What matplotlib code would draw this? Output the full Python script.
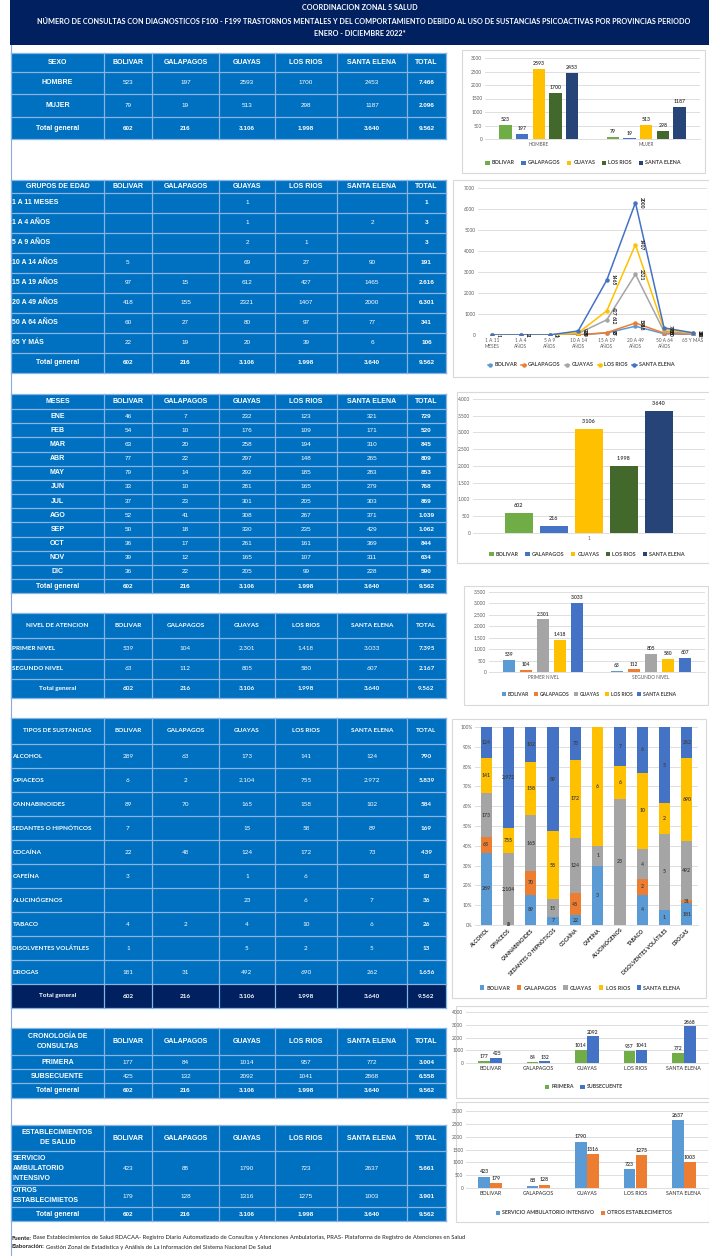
import matplotlib
matplotlib.use('Agg')
import matplotlib.pyplot as plt
from matplotlib.patches import Rectangle
from matplotlib.lines import Line2D
from matplotlib.ticker import FuncFormatter
import numpy as np

W, H = 709, 1256

# ------------------------------------------------------------------ data
provincias = ['BOLIVAR', 'GALAPAGOS', 'GUAYAS', 'LOS RIOS', 'SANTA ELENA']

sexo_cats = ['HOMBRE', 'MUJER']
sexo_vals = [[523, 197, 2593, 1700, 2453],
             [79, 19, 513, 298, 1187]]

edad_cats = ['1 A 11 MESES', '1 A 4 AÑOS', '5 A 9 AÑOS', '10 A 14 AÑOS',
             '15 A 19 AÑOS', '20 A 49 AÑOS', '50 A 64 AÑOS', '65 Y MÁS']
edad_axis_labels = ['1 A 11\nMESES', '1 A 4\nAÑOS', '5 A 9\nAÑOS', '10 A 14\nAÑOS',
                    '15 A 19\nAÑOS', '20 A 49\nAÑOS', '50 A 64\nAÑOS', '65 Y MÁS']
edad_vals = [[None, None, 1, None, None],
             [None, None, 1, None, 2],
             [None, None, 2, 1, None],
             [5, None, 69, 27, 90],
             [97, 15, 612, 427, 1465],
             [418, 155, 2321, 1407, 2000],
             [60, 27, 80, 97, 77],
             [22, 19, 20, 39, 6]]

meses_cats = ['ENE', 'FEB', 'MAR', 'ABR', 'MAY', 'JUN', 'JUL', 'AGO', 'SEP', 'OCT', 'NOV', 'DIC']
meses_vals = [[46, 7, 232, 123, 321], [54, 10, 176, 109, 171], [63, 20, 258, 194, 310],
              [77, 22, 297, 148, 265], [79, 14, 292, 185, 283], [33, 10, 281, 165, 279],
              [37, 23, 301, 205, 303], [52, 41, 308, 267, 371], [50, 18, 330, 235, 429],
              [36, 17, 261, 161, 369], [39, 12, 165, 107, 311], [36, 22, 205, 99, 228]]
meses_chart_cat = ['1']

nivel_cats = ['PRIMER NIVEL', 'SEGUNDO NIVEL']
nivel_vals = [[539, 104, 2301, 1418, 3033],
              [63, 112, 805, 580, 607]]

sust_cats = ['ALCOHOL', 'OPIACEOS', 'CANNABINOIDES', 'SEDANTES O HIPNÓTICOS', 'COCAÍNA',
             'CAFEÍNA', 'ALUCINÓGENOS', 'TABACO', 'DISOLVENTES VOLÁTILES', 'DROGAS']
sust_vals = [[289, 63, 173, 141, 124], [6, 2, 2104, 755, 2972], [89, 70, 165, 158, 102],
             [7, None, 15, 58, 89], [22, 48, 124, 172, 73], [3, None, 1, 6, None],
             [None, None, 23, 6, 7], [4, 2, 4, 10, 6], [1, None, 5, 2, 5],
             [181, 31, 492, 690, 262]]

crono_cats = ['PRIMERA', 'SUBSECUENTE']
crono_vals = [[177, 84, 1014, 957, 772],
              [425, 132, 2092, 1041, 2868]]

estab_cats = ['SERVICIO AMBULATORIO INTENSIVO', 'OTROS ESTABLECIMIETOS']
estab_table_labels = ['SERVICIO\nAMBULATORIO\nINTENSIVO', 'OTROS\nESTABLECIMIETOS']
estab_vals = [[423, 88, 1790, 723, 2637],
              [179, 128, 1316, 1275, 1003]]

# ------------------------------------------------------------------ style
NAVY = '#002060'
BLUE = '#0070C0'
GRIDC = '#86B4E3'
PAL_A = ['#70AD47', '#4472C4', '#FFC000', '#43682B', '#264478']
PAL_B = ['#5B9BD5', '#ED7D31', '#A5A5A5', '#FFC000', '#4472C4']
PAL_CRONO = ['#70AD47', '#4472C4']
PAL_ESTAB = ['#5B9BD5', '#ED7D31']
ARIAL = ['Liberation Sans', 'DejaVu Sans']
CALI = ['Lato', 'DejaVu Sans']
LBL = '#404040'
TICKC = '#595959'


def fmt(n):
    return f"{int(round(n)):,}".replace(',', '.')


fig = plt.figure(figsize=(W / 100, H / 100), dpi=100)
bg = fig.add_axes([0, 0, 1, 1])
bg.set_xlim(0, W)
bg.set_ylim(H, 0)
bg.axis('off')

# left border
bg.plot([10.5, 10.5], [0, H], color='#8EA9DB', lw=0.8, zorder=0)

# header band
bg.add_patch(Rectangle((10, 0), W - 10, 45, fc=NAVY, ec='none', zorder=1))
bg.text(360, 7.5, 'COORDINACION ZONAL 5 SALUD', color='white', ha='center', va='center',
        fontsize=5.2, weight='bold', family=CALI, zorder=3)
bg.text(364, 22, 'NÚMERO DE CONSULTAS CON DIAGNOSTICOS F100 - F199 TRASTORNOS MENTALES Y DEL '
        'COMPORTAMIENTO DEBIDO AL USO DE SUSTANCIAS PSICOACTIVAS POR PROVINCIAS PERIODO',
        color='white', ha='center', va='center', fontsize=5.2, weight='bold', family=CALI, zorder=3)
bg.text(360, 33.5, 'ENERO - DICIEMBRE 2022*', color='white', ha='center', va='center',
        fontsize=5.2, weight='bold', family=CALI, zorder=3)

COLS = [11, 104, 152, 219, 275, 337, 407, 446]


def draw_table(ys, head0, labels, vals, inner_dot=False, label_ha='center', fam=ARIAL,
               fs_head=5.0, fs_body=4.6, total_fc=BLUE):
    x0, x1 = COLS[0], COLS[-1]
    bg.add_patch(Rectangle((x0, ys[0]), x1 - x0, ys[-1] - ys[0], fc=BLUE, ec='none', zorder=1))
    if total_fc != BLUE:
        bg.add_patch(Rectangle((x0, ys[-2]), x1 - x0, ys[-1] - ys[-2], fc=total_fc, ec='none', zorder=1.2))
    for x in COLS:
        bg.plot([x, x], [ys[0], ys[-1]], color=GRIDC, lw=0.9, zorder=2)
    for y in ys:
        bg.plot([x0, x1], [y, y], color=GRIDC, lw=0.9, zorder=2)
    heads = [head0] + provincias + ['TOTAL']
    for j, h in enumerate(heads):
        bg.text((COLS[j] + COLS[j + 1]) / 2, (ys[0] + ys[1]) / 2, h, color='white',
                ha='center', va='center', fontsize=fs_head, weight='bold', family=fam,
                zorder=3, linespacing=1.6)
    col_tot = [0] * 5
    for i, row in enumerate(vals):
        yc = (ys[i + 1] + ys[i + 2]) / 2
        if label_ha == 'left':
            bg.text(COLS[0] + 1.5, yc, labels[i], color='white', ha='left', va='center',
                    fontsize=fs_head, weight='bold', family=fam, zorder=3, linespacing=1.6)
        else:
            bg.text((COLS[0] + COLS[1]) / 2, yc, labels[i], color='white', ha='center',
                    va='center', fontsize=fs_head, weight='bold', family=fam, zorder=3)
        for j, v in enumerate(row):
            if v is None:
                continue
            col_tot[j] += v
            txt = fmt(v) if inner_dot else str(v)
            bg.text((COLS[j + 1] + COLS[j + 2]) / 2, yc, txt, color='white', ha='center',
                    va='center', fontsize=fs_body, family=fam, zorder=3)
        tot = sum(v for v in row if v is not None)
        bg.text((COLS[6] + COLS[7]) / 2, yc, fmt(tot), color='white', ha='center',
                va='center', fontsize=fs_body, weight='bold', family=fam, zorder=3)
    yc = (ys[-2] + ys[-1]) / 2
    bg.text((COLS[0] + COLS[1]) / 2, yc, 'Total general', color='white', ha='center',
            va='center', fontsize=fs_head, weight='bold', family=fam, zorder=3)
    for j, t in enumerate(col_tot):
        bg.text((COLS[j + 1] + COLS[j + 2]) / 2, yc, fmt(t), color='white', ha='center',
                va='center', fontsize=fs_body, weight='bold', family=fam, zorder=3)
    bg.text((COLS[6] + COLS[7]) / 2, yc, fmt(sum(col_tot)), color='white', ha='center',
            va='center', fontsize=fs_body, weight='bold', family=fam, zorder=3)


# tables
draw_table([53, 72, 94, 117, 139], 'SEXO', sexo_cats, sexo_vals)
draw_table([180] + [193 + 20 * k for k in range(10)], 'GRUPOS DE EDAD', edad_cats, edad_vals,
           label_ha='left')
draw_table([394] + [409 + 14.17 * k for k in range(14)], 'MESES', meses_cats, meses_vals)
draw_table([613, 638, 659, 679, 698], 'NIVEL DE ATENCION', nivel_cats, nivel_vals,
           inner_dot=True, label_ha='left', fam=CALI, fs_head=4.6, fs_body=4.6)
draw_table([718] + [744 + 24 * k for k in range(12)], 'TIPOS DE SUSTANCIAS', sust_cats, sust_vals,
           inner_dot=True, label_ha='left', fam=CALI, fs_head=4.6, fs_body=4.6, total_fc=NAVY)
draw_table([1028, 1055, 1069, 1083, 1098], 'CRONOLOGÍA DE\nCONSULTAS', crono_cats, crono_vals)
draw_table([1125, 1151, 1185, 1207, 1221], 'ESTABLECIMIENTOS\nDE SALUD', estab_table_labels,
           estab_vals, label_ha='left')


# ------------------------------------------------------------------ charts
def chart_box(x0, y0, x1, y1):
    bg.add_patch(Rectangle((x0, y0), x1 - x0, y1 - y0, fc='white', ec='#D9D9D9', lw=0.8, zorder=1))


def px_axes(x0, y0, x1, y1):
    ax = fig.add_axes([x0 / W, 1 - y1 / H, (x1 - x0) / W, (y1 - y0) / H])
    ax.set_facecolor('none')
    return ax


def style(ax, ymax, step, dot=False):
    ax.set_ylim(0, ymax)
    ax.set_yticks(np.arange(0, ymax + step / 2, step))
    if dot:
        ax.yaxis.set_major_formatter(FuncFormatter(lambda v, p: fmt(v)))
    else:
        ax.yaxis.set_major_formatter(FuncFormatter(lambda v, p: str(int(round(v)))))
    ax.grid(axis='y', color='#D9D9D9', lw=0.6)
    ax.set_axisbelow(True)
    for s in ['top', 'right', 'left']:
        ax.spines[s].set_visible(False)
    ax.spines['bottom'].set_color('#D9D9D9')
    ax.spines['bottom'].set_linewidth(0.6)
    ax.tick_params(length=0, labelsize=3.4, colors=TICKC, pad=2)
    for t in ax.get_xticklabels() + ax.get_yticklabels():
        t.set_family(CALI)


def legend(ax, handles, labels, cx, cy, ncol=5, fs=3.9, cs=1.2):
    ax.legend(handles, labels, loc='center', bbox_to_anchor=(cx / W, 1 - cy / H),
              bbox_transform=fig.transFigure, ncol=ncol, frameon=False,
              prop={'family': CALI, 'size': fs, 'weight': 'bold'}, labelcolor=LBL,
              handlelength=0.8, handleheight=0.8, handletextpad=0.4, columnspacing=cs,
              borderpad=0)


def sq(c):
    return Rectangle((0, 0), 1, 1, fc=c, ec='none')


def grouped_bars(ax, cats, series, colors, width, step, ymax, labfmt=str, fs=3.7):
    x = np.arange(len(cats))
    n = len(series)
    for i, s in enumerate(series):
        off = (i - (n - 1) / 2) * step
        vals = np.array(s, dtype=float)
        ax.bar(x + off, vals, width, color=colors[i], zorder=2)
        for xi, v in zip(x + off, vals):
            ax.text(xi, v + ymax * 0.035, labfmt(v), ha='center', va='bottom', fontsize=fs,
                    weight='bold', color=LBL, family=CALI)
    ax.set_xlim(-0.5, len(cats) - 0.5)
    ax.set_xticks(x)
    ax.set_xticklabels(cats)


# Chart 1 : sexo
chart_box(462, 50, 705, 173)
ax1 = px_axes(485, 58, 700, 139)
sexo_series = [list(col) for col in zip(*sexo_vals)]
grouped_bars(ax1, sexo_cats, sexo_series, PAL_A, 0.115, 0.155, 3000,
             labfmt=lambda v: str(int(v)))
style(ax1, 3000, 500)
legend(ax1, [sq(c) for c in PAL_A], provincias, 583, 163)

# Chart 2 : edad (stacked lines)
chart_box(453, 180, 709, 377)
ax2 = px_axes(478, 188, 707, 335)
xe = np.arange(len(edad_cats))
cum = np.zeros(len(edad_cats))
handles = []
for i in range(5):
    raw = [r[i] for r in edad_vals]
    v = np.array([0 if a is None else a for a in raw], dtype=float)
    cum = cum + v
    ax2.plot(xe, cum, color=PAL_B[i], lw=1.1, marker='o', ms=2.2, zorder=3 + i)
    for xi, yi, a in zip(xe, cum, raw):
        if a is None:
            continue
        ax2.text(xi + 0.13, yi, str(a), rotation=270, ha='left', va='center', fontsize=3.5,
                 weight='bold', color='#202020', family=CALI, zorder=10)
    handles.append(Line2D([0], [0], color=PAL_B[i], lw=1.1, marker='o', ms=2.2))
ax2.set_xlim(-0.5, len(edad_cats) - 0.5)
ax2.set_xticks(xe)
ax2.set_xticklabels(edad_axis_labels)
style(ax2, 7000, 1000)
ax2.spines['bottom'].set_visible(False)
legend(ax2, handles, provincias, 581, 365, cs=0.8, fs=3.9)

# Chart 3 : meses totals
chart_box(457, 392, 709, 563)
ax3 = px_axes(473, 399, 705, 533)
meses_tot = [[sum(r[i] for r in meses_vals)] for i in range(5)]
grouped_bars(ax3, meses_chart_cat, meses_tot, PAL_A, 0.119, 0.151, 4000, labfmt=fmt, fs=3.9)
style(ax3, 4000, 500, dot=True)
legend(ax3, [sq(c) for c in PAL_A], provincias, 587, 554)

# Chart 4 : nivel
chart_box(464, 586, 708, 705)
ax4 = px_axes(489, 592, 705, 672)
nivel_series = [list(col) for col in zip(*nivel_vals)]
grouped_bars(ax4, nivel_cats, nivel_series, PAL_B, 0.11, 0.157, 3500, labfmt=fmt, fs=3.5)
style(ax4, 3500, 500, dot=True)
legend(ax4, [sq(c) for c in PAL_B], provincias, 589, 694, fs=3.6, cs=0.9)

# Chart 5 : sustancias 100% stacked
chart_box(452, 719, 706, 998)
ax5 = px_axes(475, 727, 698, 925)
xs = np.arange(len(sust_cats))
tot5 = np.array([sum(v for v in r if v is not None) for r in sust_vals], dtype=float)
bottom = np.zeros(len(sust_cats))
for i in range(5):
    raw = [r[i] for r in sust_vals]
    v = np.array([0 if a is None else a for a in raw], dtype=float)
    frac = v / tot5
    ax5.bar(xs, frac, 0.5, bottom=bottom, color=PAL_B[i], zorder=2)
    for xi, b, f, a in zip(xs, bottom, frac, raw):
        if a is None:
            continue
        ax5.text(xi, b + f / 2, fmt(a), ha='center', va='center', fontsize=3.7,
                 weight='bold', color=LBL, family=CALI, zorder=5)
    bottom = bottom + frac
ax5.set_xlim(-0.5, len(sust_cats) - 0.5)
ax5.set_xticks(xs)
ax5.set_xticklabels(sust_cats, rotation=45, ha='right', rotation_mode='anchor')
style(ax5, 1.0, 0.1)
ax5.yaxis.set_major_formatter(FuncFormatter(lambda v, p: f"{int(round(v * 100))}%"))
for t in ax5.get_xticklabels():
    t.set_weight('bold')
    t.set_color('#262626')
    t.set_fontsize(3.7)
legend(ax5, [sq(c) for c in PAL_B], provincias, 580, 988, fs=4.0, cs=1.2)

# Chart 6 : cronologia
chart_box(456, 1006, 709, 1098)
ax6 = px_axes(466, 1012, 708, 1063)
crono_series = [list(r) for r in crono_vals]
grouped_bars(ax6, provincias, crono_series, PAL_CRONO, 0.24, 0.25, 4000,
             labfmt=lambda v: str(int(v)), fs=3.6)
style(ax6, 4000, 1000)
for t in ax6.get_xticklabels():
    t.set_fontsize(3.8)
    t.set_color('#262626')
legend(ax6, [sq(c) for c in PAL_CRONO], crono_cats, 584, 1087, fs=3.8)

# Chart 7 : establecimientos
chart_box(456, 1102, 709, 1222)
ax7 = px_axes(466, 1111, 708, 1188)
estab_series = [list(r) for r in estab_vals]
grouped_bars(ax7, provincias, estab_series, PAL_ESTAB, 0.24, 0.25, 3000,
             labfmt=lambda v: str(int(v)), fs=3.8)
style(ax7, 3000, 500)
for t in ax7.get_xticklabels():
    t.set_fontsize(3.8)
    t.set_color('#262626')
legend(ax7, [sq(c) for c in PAL_ESTAB], estab_cats, 584, 1213, fs=3.8)

# ------------------------------------------------------------------ footer
fig.canvas.draw()
rend = fig.canvas.get_renderer()


def rich_line(x, y, bold, rest, fs=4.2):
    t = bg.text(x, y, bold, ha='left', va='center', fontsize=fs, weight='bold',
                family=CALI, color='#202020')
    bb = t.get_window_extent(renderer=rend)
    x2 = x + bb.width * W / fig.bbox.width + 1.0
    bg.text(x2, y, rest, ha='left', va='center', fontsize=fs, family=CALI, color='#202020')


rich_line(12, 1238, 'Fuente:', 'Base Establecimientos de Salud RDACAA- Registro Diario Automatizado de '
          'Consultas y Atenciones Ambulatorias, PRAS- Plataforma de Registro de Atenciones en Salud')
rich_line(12, 1247, 'Elaboración:', 'Gestión Zonal de Estadística y Análisis de La Información del '
          'Sistema Nacional De Salud')

fig.savefig('out.png', dpi=100)
